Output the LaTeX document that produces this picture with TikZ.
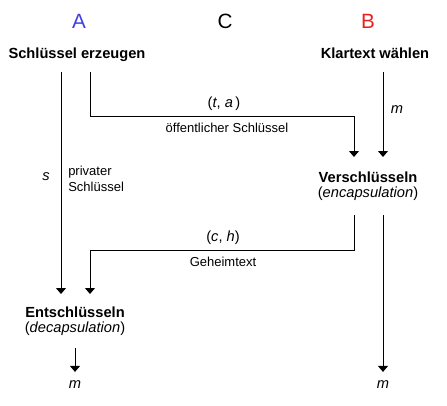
\documentclass[tikz,border=0pt]{standalone}
\usepackage{fontspec}
\setmainfont{Liberation Sans}
\usetikzlibrary{arrows.meta}
\definecolor{partyA}{RGB}{64,64,224}
\definecolor{partyB}{RGB}{232,32,32}

\begin{document}
\begin{tikzpicture}[x=0.75pt,y=-0.75pt,
        party/.style={font=\fontsize{15.5}{18}\selectfont, anchor=base, inner sep=0pt},
        stepbox/.style={font=\fontsize{11}{11.25}\selectfont, align=center, inner sep=0pt, outer sep=8.5pt},
        lbl/.style={font=\fontsize{11}{13}\selectfont, anchor=base, inner sep=0pt},
        note/.style={font=\fontsize{9.75}{12}\selectfont, anchor=base, inner sep=0pt},
        msg/.style={font=\fontsize{11}{13}\selectfont\itshape, inner sep=0pt, outer sep=6.5pt},
        arr/.style={-{Triangle[width=7.5pt,length=4.5pt]}, line width=0.75pt}]
                \useasboundingbox (0,0) rectangle (447,405);
                \node[party, text=partyA] (A) at (79,28) {A};
                \node[party] (C) at (225,28) {C};
                \node[party, text=partyB] (B) at (368,28) {B};

                \node[stepbox, anchor=base] (keygen) at (77,58) {\textbf{Schlüssel erzeugen}};
                \node[stepbox, anchor=base, outer sep=10.5pt] (plain) at (375,58) {\textbf{Klartext wählen}};
                \node[stepbox, outer sep=11pt] (enc) at (368,186) {\textbf{Verschlüsseln}\\(\textit{encapsulation})};
                \node[stepbox, outer sep=9.5pt] (dec) at (75,321) {\textbf{Entschlüsseln}\\(\textit{decapsulation})};
                \node[msg] (mA) at (75,384.5) {m};
                \node[msg] (mB) at (383,384.5) {m};

                \node[lbl] (ta) at (224,107) {(\textit{t}, \textit{a}\,)};
                \node[note] (pub) at (227,132) {öffentlicher Schlüssel};
                \node[lbl] (mlbl) at (397,113) {\textit{m}};
                \node[lbl] (slbl) at (46,180) {\textit{s}};
                \node[note, anchor=west, align=left] (priv) at (68,178.5) {privater\\Schlüssel};
                \node[lbl] (ch) at (223,241) {(\textit{c}, \textit{h})};
                \node[note] (geheim) at (223,266) {Geheimtext};

                \coordinate (sk) at (61,0);
                \coordinate (pk) at (90,116);
                \coordinate (ct) at (354,250);

                \draw[arr] (keygen.south -| sk) -- (dec.north -| sk);
                \draw[arr] (keygen.south -| pk) -- (pk) -| (enc.north -| ct);
                \draw[arr] (plain.south -| mB) -- (enc.north -| mB);
                \draw[arr] (enc.south -| ct) -- (ct) -| (dec.north -| pk);
                \draw[arr] (enc.south -| mB) -- (mB);
                \draw[arr] (dec) -- (mA);
            \end{tikzpicture}
\end{document}
